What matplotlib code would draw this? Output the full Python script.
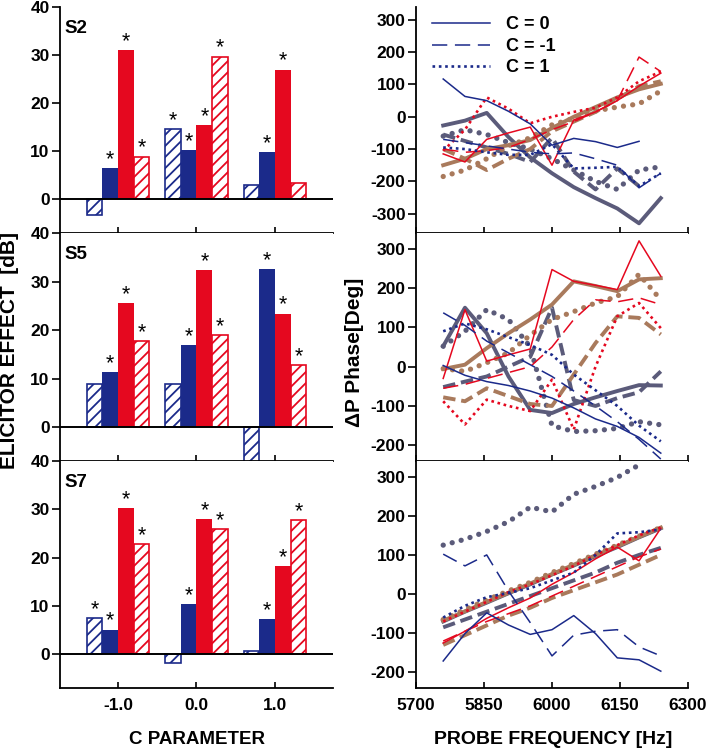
import numpy as np
import matplotlib
matplotlib.use('Agg')
import matplotlib.pyplot as plt
from matplotlib.lines import Line2D

plt.rcParams['font.family'] = ['Liberation Sans', 'DejaVu Sans']
plt.rcParams['font.weight'] = 'bold'
plt.rcParams['axes.unicode_minus'] = False
plt.rcParams['hatch.linewidth'] = 1.3

BLUE = '#1b2a8a'
RED = '#e5081f'
GRAY = '#5b5b7a'
BROWN = '#a97a5c'

# ---------------- bar data (left column) ----------------
subjects = ['S2', 'S5', 'S7']
c_params = [-1.0, 0.0, 1.0]
c_tick_labels = ['-1.0', '0.0', '1.0']
elicitor_ticks = [0, 10, 20, 30, 40]

s2_blue_hatch = [-3.2, 14.6, 3.0]
s2_blue_solid = [6.5, 10.2, 9.9]
s2_red_solid = [31.0, 15.4, 27.0]
s2_red_hatch = [8.9, 29.7, 3.5]
s2_sig = [[0, 1, 0], [1, 1, 1], [1, 1, 1], [1, 1, 0]]

s5_blue_hatch = [8.8, 8.9, -7.5]
s5_blue_solid = [11.4, 16.9, 32.5]
s5_red_solid = [25.5, 32.3, 23.4]
s5_red_hatch = [17.7, 19.0, 12.7]
s5_sig = [[0, 0, 0], [1, 1, 1], [1, 1, 1], [1, 1, 1]]

s7_blue_hatch = [7.5, -1.9, 0.7]
s7_blue_solid = [5.1, 10.4, 7.3]
s7_red_solid = [30.3, 27.9, 18.3]
s7_red_hatch = [22.9, 26.0, 27.7]
s7_sig = [[1, 0, 0], [1, 1, 1], [1, 1, 1], [1, 1, 1]]

# ---------------- phase data (right column) ----------------
probe_freqs = [5760, 5808, 5856, 5904, 5952, 6000, 6048, 6096, 6144, 6192, 6240]
freq_ticks = [5700, 5850, 6000, 6150, 6300]
nan = np.nan

p1_blue_c0 = [117, 63, 50, 17, -22, -88, -67, -77, -95, -76, nan]
p1_blue_cm1 = [-70, -80, -90, -100, -110, -115, -112, -130, -150, -220, -175]
p1_blue_c1 = [-95, -100, -110, -118, -118, -85, -160, -158, -155, -215, -175]
p1_red_c0 = [-115, -140, -70, -50, -32, -150, -10, 15, 50, 95, 135]
p1_red_cm1 = [-100, -110, -105, -95, -70, -40, -15, 15, 50, 185, 140]
p1_red_c1 = [-105, -40, 60, 25, -20, 0, 15, 28, 60, 110, 140]
p1_gray_c0 = [-27, -12, 12, -63, -126, -175, -218, -252, -284, -330, -252]
p1_gray_cm1 = [-55, -75, -95, -115, -140, -65, -170, -225, -160, -215, nan]
p1_gray_c1 = [-60, -40, -55, -80, -100, -130, -165, -200, -225, -165, -155]
p1_brown_c0 = [-150, -130, -100, -88, -72, -35, 0, 30, 60, 85, 102]
p1_brown_cm1 = [-100, -130, -165, -130, -100, -45, -15, 15, 55, 95, 110]
p1_brown_c1 = [-185, -165, -130, -90, -65, -25, -5, 18, 30, 40, 80]

p2_blue_c0 = [3, -22, -38, -48, -62, -80, -105, -133, -152, -180, -220]
p2_blue_cm1 = [137, 105, 65, 35, 5, -25, -62, -100, -140, -185, -235]
p2_blue_c1 = [90, 110, 95, 75, 55, 30, -20, -60, -100, -150, -190]
p2_red_c0 = [-30, 145, 14, 30, 45, 247, 217, 207, 196, 320, 230]
p2_red_cm1 = [-55, -45, -30, -15, 0, 50, 120, 170, 165, 175, 158]
p2_red_c1 = [-88, -147, -84, -100, -113, -33, -160, 0, 128, 162, 98]
p2_gray_c0 = [52, 150, 85, -25, -110, -118, -95, -78, -62, -47, -48]
p2_gray_cm1 = [-52, -38, -25, 0, 25, 150, -85, -100, -80, -65, -12]
p2_gray_c1 = [52, 90, 145, 120, 50, -150, -165, -163, -157, -140, -148]
p2_brown_c0 = [-6, 5, 47, 85, 120, 158, 217, 205, 192, 222, 225]
p2_brown_cm1 = [-78, -88, -55, -75, -95, -100, -20, 60, 128, 124, 82]
p2_brown_c1 = [-5, -12, 10, 35, 80, 120, 140, 162, 178, 235, 170]

p3_blue_c0 = [-171, -101, -48, -79, -103, -91, -55, -101, -163, -168, -197]
p3_blue_cm1 = [102, 72, 100, 8, -73, -158, -105, -95, -91, -135, -158]
p3_blue_c1 = [-60, -30, -8, 3, 15, 35, 55, 100, 155, 158, 165]
p3_red_c0 = [-125, -95, -62, -35, -10, 25, 55, 90, 120, 85, 168]
p3_red_cm1 = [-120, -95, -70, -50, -30, -5, 20, 45, 70, 95, 115]
p3_red_c1 = [-70, -45, -20, 5, 25, 48, 72, 100, 125, 150, 170]
p3_gray_c0 = [-70, -45, -22, 2, 25, 50, 73, 97, 120, 145, 168]
p3_gray_cm1 = [-85, -65, -45, -25, -5, 15, 35, 55, 80, 100, 118]
p3_gray_c1 = [125, 140, 160, 185, 222, 210, 255, 275, 298, 330, nan]
p3_brown_c0 = [-68, -44, -20, 3, 27, 51, 75, 99, 122, 146, 170]
p3_brown_cm1 = [-130, -105, -80, -55, -35, -10, 10, 30, 50, 75, 100]
p3_brown_c1 = [-65, -40, -15, 8, 30, 55, 78, 102, 125, 148, 170]

legend_labels = ['C = 0', 'C = -1', 'C = 1']

# ---------------- figure ----------------
fig = plt.figure(figsize=(7.08, 7.52), dpi=100)
W, H = 708.0, 752.0

rows_px = [(7, 233), (233, 461), (461, 688)]
left_x = (60, 333)
right_x = (416, 688)

bar_sets = [
    (s2_blue_hatch, s2_blue_solid, s2_red_solid, s2_red_hatch, s2_sig),
    (s5_blue_hatch, s5_blue_solid, s5_red_solid, s5_red_hatch, s5_sig),
    (s7_blue_hatch, s7_blue_solid, s7_red_solid, s7_red_hatch, s7_sig),
]
phase_sets = [
    dict(blue=(p1_blue_c0, p1_blue_cm1, p1_blue_c1), red=(p1_red_c0, p1_red_cm1, p1_red_c1),
         gray=(p1_gray_c0, p1_gray_cm1, p1_gray_c1), brown=(p1_brown_c0, p1_brown_cm1, p1_brown_c1)),
    dict(blue=(p2_blue_c0, p2_blue_cm1, p2_blue_c1), red=(p2_red_c0, p2_red_cm1, p2_red_c1),
         gray=(p2_gray_c0, p2_gray_cm1, p2_gray_c1), brown=(p2_brown_c0, p2_brown_cm1, p2_brown_c1)),
    dict(blue=(p3_blue_c0, p3_blue_cm1, p3_blue_c1), red=(p3_red_c0, p3_red_cm1, p3_red_c1),
         gray=(p3_gray_c0, p3_gray_cm1, p3_gray_c1), brown=(p3_brown_c0, p3_brown_cm1, p3_brown_c1)),
]
phase_ylims = [(-360, 340), (-240, 340), (-240, 340)]
phase_ticks = [[-300, -200, -100, 0, 100, 200, 300],
               [-200, -100, 0, 100, 200, 300],
               [-200, -100, 0, 100, 200, 300]]

TICK_FS = 12.5
LAB_FS = 13

thin_styles = [dict(ls='-', lw=1.1),
               dict(ls=(0, (10, 5)), lw=1.1),
               dict(ls=(0, (1, 1.4)), lw=1.9)]
thick_styles = [dict(ls='-', lw=2.8),
                dict(ls=(0, (3.2, 1.5)), lw=2.8),
                dict(ls=(0, (0.01, 1.75)), lw=3.8, dash_capstyle='round')]


def axes_rect(xpx, ypx):
    x0, x1 = xpx
    y0, y1 = ypx
    return [x0 / W, 1 - y1 / H, (x1 - x0) / W, (y1 - y0) / H]


offsets = [-0.3, -0.1, 0.1, 0.3]
for i in range(3):
    # ---------- left bar panel ----------
    ax = fig.add_axes(axes_rect(left_x, rows_px[i]))
    bh, bs, rs, rh, sig = bar_sets[i]
    series = [(bh, BLUE, True), (bs, BLUE, False), (rs, RED, False), (rh, RED, True)]
    x = np.array(c_params)
    for j, (vals, col, hatched) in enumerate(series):
        if hatched:
            ax.bar(x + offsets[j], vals, width=0.2, facecolor='white', edgecolor=col,
                   hatch='///', linewidth=1.2, zorder=2)
        else:
            ax.bar(x + offsets[j], vals, width=0.2, color=col, linewidth=0, zorder=2)
        for k, v in enumerate(vals):
            if sig[j][k]:
                ax.text(x[k] + offsets[j], max(v, 0) + 0.6, '*', ha='center', va='baseline',
                        fontsize=15.5, fontweight='normal', color='black')
    ax.axhline(0, color='black', lw=1.4, zorder=3)
    ax.set_xlim(-1.74, 1.74)
    ax.set_ylim(-7, 40)
    ax.set_yticks(elicitor_ticks)
    ax.set_xticks(c_params)
    for s in ['top', 'right']:
        ax.spines[s].set_visible(False)
    for s in ['left', 'bottom']:
        ax.spines[s].set_linewidth(1.3)
    ax.tick_params(axis='y', direction='out', length=5.5, width=1.2, pad=2, labelsize=TICK_FS)
    ax.tick_params(axis='x', direction='in', length=4, width=1.2, pad=7, labelsize=TICK_FS)
    if i < 2:
        ax.set_xticklabels([])
    else:
        ax.set_xticklabels(c_tick_labels)
    ax.text(-1.68, 35.5, subjects[i], fontsize=13.5, fontweight='bold', va='center', ha='left')

    # ---------- right phase panel ----------
    ax2 = fig.add_axes(axes_rect(right_x, rows_px[i]))
    d = phase_sets[i]
    for name, col in [('gray', GRAY), ('brown', BROWN)]:
        for c in range(3):
            ax2.plot(probe_freqs, d[name][c], color=col, **thick_styles[c])
    for name, col in [('red', RED), ('blue', BLUE)]:
        for c in range(3):
            ax2.plot(probe_freqs, d[name][c], color=col, **thin_styles[c])
    ax2.set_xlim(5700, 6300)
    ax2.set_ylim(*phase_ylims[i])
    ax2.set_yticks(phase_ticks[i])
    ax2.set_xticks(freq_ticks)
    for s in ['top', 'right']:
        ax2.spines[s].set_visible(False)
    for s in ['left', 'bottom']:
        ax2.spines[s].set_linewidth(1.3)
    ax2.tick_params(axis='y', direction='out', length=5.5, width=1.2, pad=2, labelsize=TICK_FS)
    ax2.tick_params(axis='x', direction='in', length=4, width=1.2, pad=7, labelsize=TICK_FS)
    if i < 2:
        ax2.set_xticklabels([])
    if i == 0:
        handles = [Line2D([0], [0], color=BLUE, **thin_styles[c]) for c in range(3)]
        ax2.legend(handles, legend_labels, loc='upper left', bbox_to_anchor=(0.0, 1.03),
                   frameon=False, handlelength=3.2, handletextpad=0.9, labelspacing=0.25,
                   prop=dict(size=LAB_FS, weight='bold'))

fig.text(10 / W, 1 - 350 / H, 'ELICITOR EFFECT  [dB]', rotation=90, ha='center', va='center',
         fontsize=15, fontweight='bold')
fig.text(355 / W, 1 - 352 / H, '\u0394P Phase[Deg]', rotation=90, ha='center', va='center',
         fontsize=15, fontweight='bold')
fig.text(197 / W, 1 - 740 / H, 'C PARAMETER', ha='center', va='center',
         fontsize=13.5, fontweight='bold')
fig.text(553 / W, 1 - 740 / H, 'PROBE FREQUENCY [Hz]', ha='center', va='center',
         fontsize=14, fontweight='bold')

fig.savefig('out.png', dpi=100)
